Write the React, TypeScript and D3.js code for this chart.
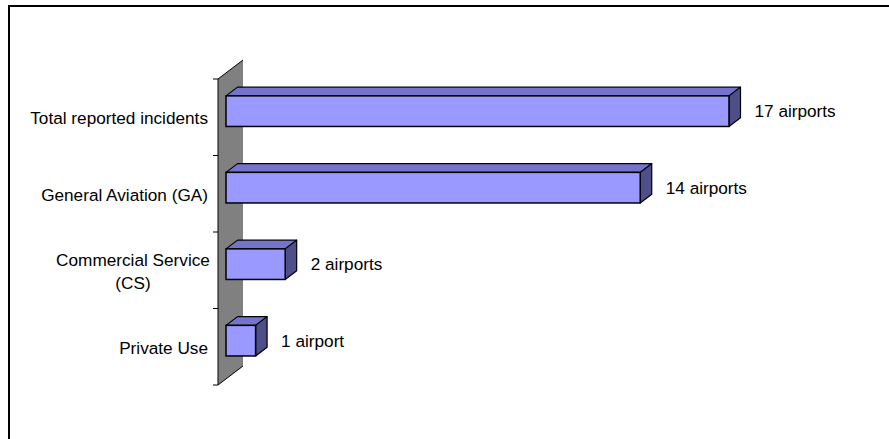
import React from "react";
import * as d3 from "d3";

const categories: string[][] = [
  ["Total reported incidents"],
  ["General Aviation (GA)"],
  ["Commercial Service", "(CS)"],
  ["Private Use"],
];
const values: number[] = [17, 14, 2, 1];
const valueLabels: string[] = ["17 airports", "14 airports", "2 airports", "1 airport"];

const W = 889;
const H = 439;
const FONT = "'Liberation Sans', Arial, sans-serif";
const FS = 17.2;

export default function App() {
  // front plane of the wall
  const wallX = 218;
  const wallTop = 79;
  const wallBottom = 385;
  const depth = { dx: 25, dy: -19 };

  const y = d3
    .scaleBand<number>()
    .domain(values.map((_, i) => i))
    .range([wallTop, wallBottom])
    .paddingInner(0.6)
    .paddingOuter(0.3);

  // bar front plane sits at ~0.32 of the depth; back plane at ~0.78
  const tFront = 0.32;
  const tBack = 0.78;
  const fx = depth.dx * tFront;
  const fy = depth.dy * tFront;
  const bx = depth.dx * tBack;
  const by = depth.dy * tBack;

  const x = d3.scaleLinear().domain([0, 17]).range([wallX + fx, 729]);

  const ticks = d3.range(values.length + 1).map((i) => wallTop + i * y.step());

  const wallPath = `M${wallX},${wallTop} L${wallX + depth.dx},${wallTop + depth.dy} L${wallX + depth.dx},${wallBottom + depth.dy} L${wallX},${wallBottom} Z`;

  return (
    <svg
      width={W}
      height={H}
      style={{ position: "absolute", left: 0, top: 0, background: "#fff" }}
      fontFamily={FONT}
    >
      <rect x={9} y={6} width={W + 20} height={H + 20} fill="#fff" stroke="#000" strokeWidth={2} />

      {/* wall */}
      <path d={wallPath} fill="#808080" stroke="none" />
      <path
        d={`M${wallX + depth.dx},${wallTop + depth.dy} L${wallX},${wallTop} L${wallX},${wallBottom} L${wallX + depth.dx},${wallBottom + depth.dy}`}
        fill="none"
        stroke="#000"
        strokeWidth={1}
      />
      {ticks.map((t, i) => (
        <line key={i} x1={wallX - 5} x2={wallX} y1={t} y2={t} stroke="#000" strokeWidth={1} />
      ))}

      {/* bars */}
      {values.map((v, i) => {
        const y0 = (y(i) as number) + fy;
        const h = y.bandwidth();
        const x0 = x(0);
        const x1 = x(v);
        const ddx = bx - fx;
        const ddy = by - fy;
        const top = `M${x0},${y0} L${x0 + ddx},${y0 + ddy} L${x1 + ddx},${y0 + ddy} L${x1},${y0} Z`;
        const side = `M${x1},${y0} L${x1 + ddx},${y0 + ddy} L${x1 + ddx},${y0 + h + ddy} L${x1},${y0 + h} Z`;
        return (
          <g key={i}>
            <path d={top} fill="#7474CC" stroke="#000" strokeWidth={1.2} strokeLinejoin="round" />
            <path d={side} fill="#4E4E88" stroke="#000" strokeWidth={1.2} strokeLinejoin="round" />
            <rect x={x0} y={y0} width={x1 - x0} height={h} fill="#9999FF" stroke="#000" strokeWidth={1.5} />
            <text
              x={x1 + ddx + 14}
              y={y0 + h / 2}
              dominantBaseline="central"
              fontSize={FS}
              fill="#000"
            >
              {valueLabels[i]}
            </text>
          </g>
        );
      })}

      {/* category labels */}
      {categories.map((lines, i) => {
        const cy = (y(i) as number) + y.bandwidth() / 2 + 1;
        const lh = 23;
        return (
          <text key={i} fontSize={FS} fill="#000" textAnchor={lines.length > 1 ? "middle" : "end"}>
            {lines.map((l, j) => (
              <tspan
                key={j}
                x={lines.length > 1 ? 133 : 208}
                y={cy + (j - (lines.length - 1) / 2) * lh}
                dominantBaseline="central"
              >
                {l}
              </tspan>
            ))}
          </text>
        );
      })}
    </svg>
  );
}
